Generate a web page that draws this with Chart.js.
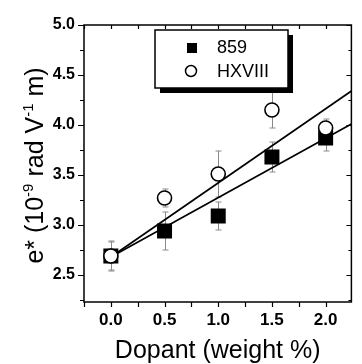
<!DOCTYPE html>
<html>
<head>
<meta charset="utf-8">
<script src="https://cdn.jsdelivr.net/npm/chart.js@4"></script>
<style>
  html, body { margin: 0; padding: 0; background: #fff; }
  #wrap { width: 362px; height: 364px; }
</style>
</head>
<body>
<div id="wrap"><canvas id="chart" width="362" height="364"></canvas></div>
<script>
'use strict';

// values
var DOPANT = [0.0, 0.5, 1.0, 1.5, 2.0];
var E_859 = [2.69, 2.94, 3.09, 3.68, 3.87];
var ERR_859 = [0.14, 0.19, 0.14, 0.15, 0.13];
var E_HX = [2.69, 3.27, 3.51, 4.15, 3.97];
var ERR_HX = [0.15, 0.09, 0.23, 0.18, 0.09];
// linear fits, drawn from x = 0 to the right edge
var FIT_X = [0.0, 2.24];
var FIT_859 = [2.68, 4.01];
var FIT_HX = [2.68, 4.34];
var SERIES_NAMES = ['859', 'HXVIII'];
var X_TICK_LABELS = ['0.0', '0.5', '1.0', '1.5', '2.0'];
var Y_TICK_LABELS = ['2.5', '3.0', '3.5', '4.0', '4.5', '5.0'];

var FONT = "'Liberation Sans', Arial, sans-serif";

function pts(xs, ys) {
  return xs.map(function (x, i) { return { x: x, y: ys[i] }; });
}

function findLabel(list, v) {
  for (var i = 0; i < list.length; i++) {
    if (Math.abs(parseFloat(list[i]) - v) < 1e-6) return list[i];
  }
  return '';
}

// gray error bars behind the markers
var errorBars = {
  id: 'errorBars',
  beforeDatasetsDraw: function (chart) {
    var xs = chart.scales.x, ys = chart.scales.y, ctx = chart.ctx;
    ctx.save();
    ctx.strokeStyle = '#8a8a8a';
    ctx.lineWidth = 1;
    [[E_HX, ERR_HX], [E_859, ERR_859]].forEach(function (s) {
      DOPANT.forEach(function (d, i) {
        var px = Math.round(xs.getPixelForValue(d)) + 0.5;
        var y1 = ys.getPixelForValue(s[0][i] + s[1][i]);
        var y2 = ys.getPixelForValue(s[0][i] - s[1][i]);
        ctx.beginPath();
        ctx.moveTo(px, y1); ctx.lineTo(px, y2);
        ctx.moveTo(px - 3, y1); ctx.lineTo(px + 3, y1);
        ctx.moveTo(px - 3, y2); ctx.lineTo(px + 3, y2);
        ctx.stroke();
      });
    });
    ctx.restore();
  }
};

// frame, ticks on all four sides, boxed legend with shadow, y title
var decorations = {
  id: 'decorations',
  afterDraw: function (chart) {
    var ctx = chart.ctx, a = chart.chartArea;
    var xs = chart.scales.x, ys = chart.scales.y;
    ctx.save();
    ctx.strokeStyle = '#000';
    ctx.lineWidth = 1.2;
    ctx.beginPath();
    xs.ticks.forEach(function (t) {
      var px = Math.round(xs.getPixelForValue(t.value)) + 0.5;
      ctx.moveTo(px, a.bottom); ctx.lineTo(px, a.bottom + 5);
      ctx.moveTo(px, a.top); ctx.lineTo(px, a.top + 4);
    });
    ys.ticks.forEach(function (t) {
      var py = Math.round(ys.getPixelForValue(t.value)) + 0.5;
      var major = findLabel(Y_TICK_LABELS, t.value) !== '';
      ctx.moveTo(a.left, py); ctx.lineTo(a.left - (major ? 6 : 4), py);
      ctx.moveTo(a.right, py); ctx.lineTo(a.right - (major ? 5 : 3), py);
    });
    ctx.stroke();
    ctx.lineWidth = 1.5;
    ctx.strokeRect(a.left, a.top, a.right - a.left, a.bottom - a.top);

    // legend
    var lx = 155, ly = 30, lw = 133, lh = 58;
    ctx.fillStyle = '#000';
    ctx.fillRect(lx + 5, ly + 5, lw, lh);
    ctx.fillStyle = '#fff';
    ctx.fillRect(lx, ly, lw, lh);
    ctx.lineWidth = 1.5;
    ctx.strokeRect(lx, ly, lw, lh);
    ctx.fillStyle = '#000';
    ctx.fillRect(187, 43, 10, 10);
    ctx.beginPath();
    ctx.arc(191, 71, 5.5, 0, Math.PI * 2);
    ctx.fillStyle = '#fff';
    ctx.fill();
    ctx.stroke();
    ctx.fillStyle = '#000';
    ctx.font = '18px ' + FONT;
    ctx.textAlign = 'left';
    ctx.textBaseline = 'alphabetic';
    ctx.fillText(SERIES_NAMES[0], 217, 53);
    ctx.fillText(SERIES_NAMES[1], 217, 77);

    // y title with superscripts
    var parts = [
      ['e* (10', false], ['-9', true], [' rad V', false], ['-1', true], [' m)', false]
    ];
    var big = '25px ' + FONT, small = '15px ' + FONT;
    var total = 0;
    parts.forEach(function (p) { ctx.font = p[1] ? small : big; total += ctx.measureText(p[0]).width; });
    ctx.translate(0, 165.5);
    ctx.rotate(-Math.PI / 2);
    var cx = -total / 2;
    parts.forEach(function (p) {
      ctx.font = p[1] ? small : big;
      ctx.fillText(p[0], cx, p[1] ? 33 : 43);
      cx += ctx.measureText(p[0]).width;
    });
    ctx.restore();
  }
};

new Chart(document.getElementById('chart'), {
  type: 'scatter',
  data: {
    datasets: [
      { label: 'fit ' + SERIES_NAMES[1], data: pts(FIT_X, FIT_HX), showLine: true, pointRadius: 0,
        borderColor: '#000', borderWidth: 1.7, order: 4 },
      { label: 'fit ' + SERIES_NAMES[0], data: pts(FIT_X, FIT_859), showLine: true, pointRadius: 0,
        borderColor: '#000', borderWidth: 1.7, order: 3 },
      { label: SERIES_NAMES[0], data: pts(DOPANT, E_859), pointStyle: 'rect', pointRadius: 10.6,
        backgroundColor: '#000', borderColor: '#000', borderWidth: 0, order: 2 },
      { label: SERIES_NAMES[1], data: pts(DOPANT, E_HX), pointStyle: 'circle', pointRadius: 7,
        backgroundColor: '#fff', borderColor: '#000', borderWidth: 1.6, order: 1 }
    ]
  },
  options: {
    responsive: false,
    animation: false,
    devicePixelRatio: 1,
    layout: { padding: { left: 0, right: 2, top: 25, bottom: 0 } },
    plugins: { legend: { display: false }, tooltip: { enabled: false } },
    scales: {
      x: {
        type: 'linear', min: -0.25, max: 2.24,
        afterFit: function (s) { s.height = 62; },
        grid: { display: false, drawTicks: false },
        border: { display: false },
        ticks: {
          stepSize: 0.25, includeBounds: false, autoSkip: false, maxRotation: 0, padding: 8,
          color: '#000', font: { family: FONT, size: 17, weight: 'bold' },
          callback: function (v) { return findLabel(X_TICK_LABELS, v); }
        },
        title: { display: true, text: 'Dopant (weight %)', color: '#000', padding: 0,
          font: { family: FONT, size: 25, lineHeight: 1 } }
      },
      y: {
        type: 'linear', min: 2.23, max: 5.0,
        afterFit: function (s) { s.width = 84; },
        grid: { display: false, drawTicks: false },
        border: { display: false },
        ticks: {
          stepSize: 0.25, includeBounds: false, autoSkip: false, padding: 9,
          color: '#000', font: { family: FONT, size: 16, weight: 'bold' },
          callback: function (v) { return findLabel(Y_TICK_LABELS, v); }
        }
      }
    }
  },
  plugins: [errorBars, decorations]
});
</script>
</body>
</html>
